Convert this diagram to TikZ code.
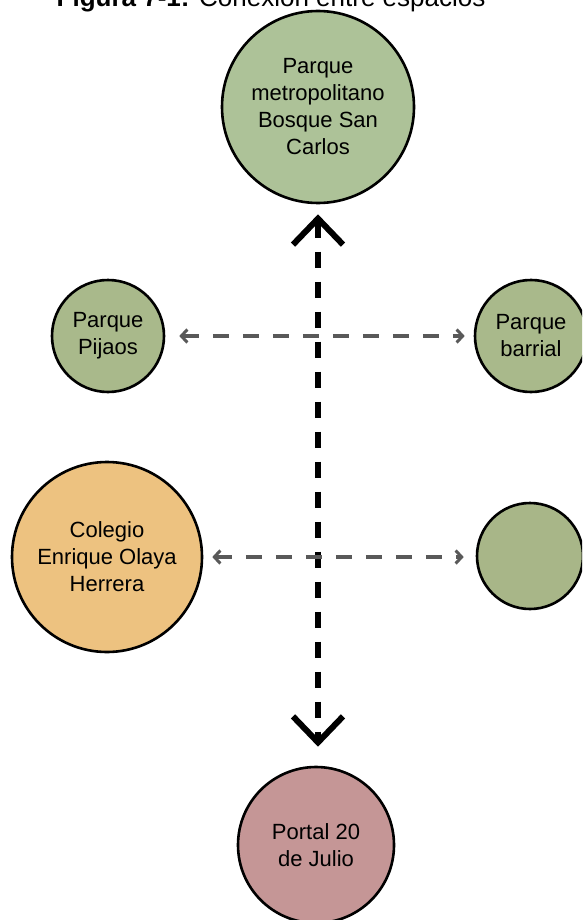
\documentclass[tikz,border=0pt]{standalone}
\usepackage{fontspec}
\setmainfont{Liberation Sans}
\usetikzlibrary{arrows.meta}
\definecolor{gtop}{HTML}{ADC298}
\definecolor{gmid}{HTML}{A9B98B}
\definecolor{gempty}{HTML}{A8B688}
\definecolor{orangec}{HTML}{EDC280}
\definecolor{rosec}{HTML}{C59696}
\definecolor{arrgray}{HTML}{595959}
\tikzset{
  place/.style={circle,draw=black,line width=2.6pt,inner sep=0pt,align=center,
    font=\fontsize{22}{27}\selectfont},
  mainlink/.style={line width=6pt,dash pattern=on 16pt off 14pt,
    {Straight Barb[length=26pt,width=50pt,line width=6pt]}-{Straight Barb[length=26pt,width=50pt,line width=6pt]}},
  sidelink/.style={draw=arrgray,line width=3.5pt,dash pattern=on 16pt off 14pt,
    {Straight Barb[length=6pt,width=13pt,line width=3pt]}-{Straight Barb[length=6pt,width=13pt,line width=3pt]}}
}
\begin{document}
\begin{tikzpicture}[x=1pt,y=-1pt]
\useasboundingbox (0,0) rectangle (582,920);
\clip (0,0) rectangle (582,920);
\fill[white] (0,0) rectangle (582,920);
\node[anchor=base,font=\fontsize{26}{30}\selectfont] (title) at (271,7) {\textbf{Figura 7-1:} Conexión entre espacios};
\node[place,fill=gtop,minimum size=192pt] (bsc) at (318,107) {Parque\\metropolitano\\Bosque San\\Carlos};
\node[place,fill=gmid,minimum size=112pt] (pij) at (108,336) {Parque\\Pijaos};
\node[place,fill=gmid,minimum size=112pt] (bar) at (531,336) {Parque\\barrial};
\node[place,fill=orangec,minimum size=190pt] (col) at (107,557) {Colegio\\Enrique Olaya\\Herrera};
\node[place,fill=gempty,minimum size=106pt] (emp) at (530,556) {};
\node[place,fill=rosec,minimum size=156pt] (por) at (316,845) {Portal 20\\de Julio};
\draw[mainlink,shorten <=10pt,shorten >=19pt] (bsc.south) -- (bsc.south |- por.north);
\draw[sidelink,shorten <=14pt,shorten >=9pt] (pij.east) -- (bar.west);
\draw[sidelink,shorten <=9pt,shorten >=12pt] (col.east) -- (emp.west |- col.east);
\end{tikzpicture}
\end{document}
